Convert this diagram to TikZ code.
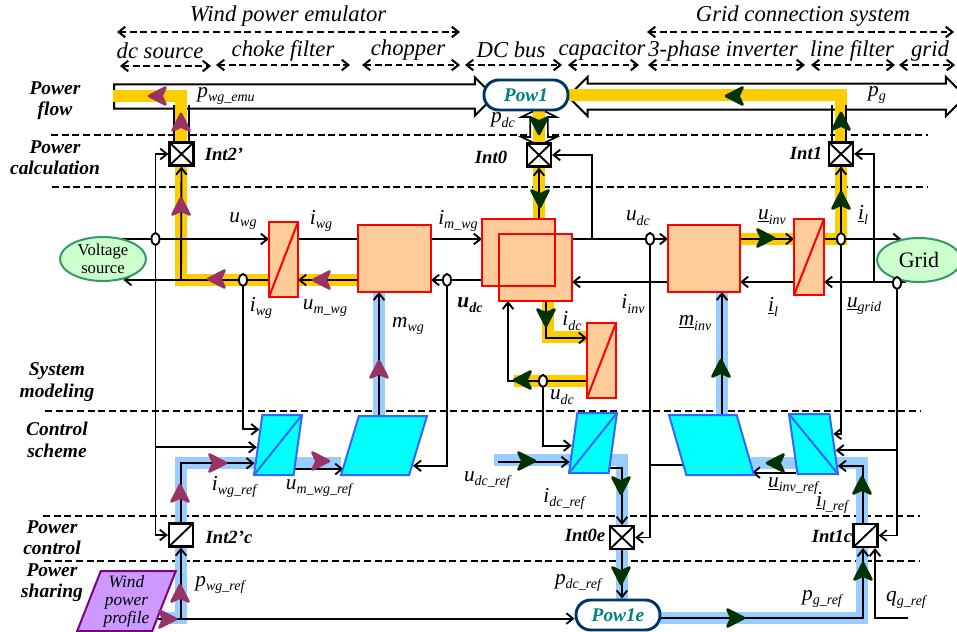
\documentclass[tikz,border=0pt]{standalone}
\usepackage{fontspec}
\setmainfont{Liberation Serif}
\usepackage{tikz}
\usetikzlibrary{arrows.meta,shapes.geometric,shapes.arrows,backgrounds}

\definecolor{bandyellow}{HTML}{FFCC00}
\definecolor{bandblue}{HTML}{99CCFF}
\definecolor{blockorange}{HTML}{FFCC99}
\definecolor{ctrlcyan}{HTML}{00FFFF}
\definecolor{ctrlblue}{HTML}{3366FF}
\definecolor{flowplum}{HTML}{993366}
\definecolor{flowgreen}{HTML}{003300}
\definecolor{powteal}{HTML}{008080}
\definecolor{powedge}{HTML}{003366}
\definecolor{srcgreen}{HTML}{CCFFCC}
\definecolor{srcedge}{HTML}{339966}
\definecolor{profviolet}{HTML}{CC99FF}
\definecolor{profedge}{HTML}{800080}

% signal label: letter plus lowered index
\newcommand{\sig}[2]{\fontsize{16}{18}\selectfont\itshape #1\raisebox{-0.45ex}{\fontsize{10.5}{12}\selectfont #2}}

\tikzset{
  sizepx/.style 2 args={minimum width=#1*0.75pt,minimum height=#2*0.75pt},
  convbox/.style={draw=red,fill=blockorange,line width=1.5pt,inner sep=0pt,outer sep=0pt},
  convdiag/.style={convbox,path picture={\draw[red,line width=1.5pt] (path picture bounding box.south west) -- (path picture bounding box.north east);}},
  intbox/.style={draw=black,fill=white,line width=1.6pt,inner sep=0pt,sizepx={24}{23}},
  intslash/.style={intbox,path picture={\draw[line width=1.4pt] (path picture bounding box.south west) -- (path picture bounding box.north east);}},
  intcross/.style={intbox,path picture={\draw[line width=1.4pt] (path picture bounding box.south west) -- (path picture bounding box.north east) (path picture bounding box.north west) -- (path picture bounding box.south east);}},
  ctrlbox/.style={trapezium,trapezium stretches=true,draw=ctrlblue,fill=ctrlcyan,line width=1.5pt,inner sep=1pt},
  ctrlup/.style={ctrlbox,path picture={\draw[ctrlblue,line width=1.5pt] (path picture bounding box.south west) -- (path picture bounding box.north east);}},
  ctrldown/.style={ctrlbox,path picture={\draw[ctrlblue,line width=1.5pt] (path picture bounding box.north west) -- (path picture bounding box.south east);}},
  powbox/.style={draw=powedge,fill=white,line width=2.2pt,rounded corners=11pt,inner sep=0pt,sizepx={84}{30},text=powteal,font=\fontsize{14.5}{16}\selectfont\bfseries\itshape},
  srcbox/.style={ellipse,draw=srcedge,fill=srcgreen,line width=1.5pt,inner sep=0pt},
  tapnode/.style={ellipse,draw=black,fill=white,line width=1.4pt,inner sep=0pt,sizepx={8}{12}},
  bigflow/.style={draw=black,fill=white,line width=1.5pt,inner xsep=0pt},
  wire/.style={black,line width=1.4pt},
  wirearrow/.style={wire,-{Straight Barb[length=5pt,width=8pt]}},
  spanarrow/.style={line width=1.5pt,dash pattern=on 5pt off 2.8pt,{Straight Barb[length=5pt,width=8pt]}-{Straight Barb[length=5pt,width=8pt]}},
  levelline/.style={line width=1.4pt,dash pattern=on 5.2pt off 2.8pt},
  yband/.style={bandyellow,line width=9pt,miter limit=10},
  bband/.style={bandblue,line width=8.5pt,miter limit=10},
  levellabel/.style={align=center,font=\fontsize{14.6}{16}\selectfont\bfseries\itshape},
  spanlabel/.style={font=\fontsize{17}{18}\selectfont\itshape},
  intlabel/.style={font=\fontsize{14}{16}\selectfont\bfseries\itshape},
  flowhead/.pic={\filldraw[line width=2pt,line join=round] (9,0) -- (-7.5,8.5) -- (-3.5,0) -- (-7.5,-8.5) -- cycle;}
}

\begin{document}
\begin{tikzpicture}[x=0.75pt,y=-0.75pt]
\clip (0,0) rectangle (957,632);

% levels used by the wires
\coordinate (lvtop) at (0,239);
\coordinate (lvbotl) at (0,280);
\coordinate (lvbotr) at (0,282);
\coordinate (lvidc) at (0,338);
\coordinate (lvudc) at (0,381);
\coordinate (lvpow) at (0,618);
\coordinate (xmwg) at (379,0);
\coordinate (xminv) at (722,0);
\coordinate (xidc) at (546,0);
\coordinate (xudc) at (508,0);
\coordinate (xpg) at (863,0);
\coordinate (xqg) at (875,0);
\coordinate (tapdc) at (592,239);
\coordinate (tapil) at (874,282);
\coordinate (joinem) at (181,280);
\coordinate (joinpr) at (181,618);
\coordinate (udcrefin) at (498,460);
\coordinate (qgrefin) at (908,618);

% blocks
\node[convdiag,sizepx={29}{75}] (convwg) at (283.5,259.5) {};
\node[convbox,sizepx={73}{67}] (chopper) at (394.5,258.5) {};
\node[convbox,sizepx={73}{67}] (busa) at (518.5,252.5) {};
\node[convbox,sizepx={73}{67}] (busb) at (535.5,267.5) {};
\draw[draw=red,line width=1.5pt] (busa.north west) rectangle (busa.south east);
\node[convbox,sizepx={72}{67}] (inverter) at (704,258.5) {};
\node[convdiag,sizepx={30}{76}] (lfilter) at (809,257) {};
\node[convdiag,sizepx={29}{75}] (convdc) at (601.5,360.5) {};

\node[ctrlup,sizepx={48}{60},trapezium left angle=75,trapezium right angle=105] (ctrliwg) at (278,445) {};
\node[ctrlbox,sizepx={86}{59},trapezium left angle=70.4,trapezium right angle=109.6] (ctrlmwg) at (384,445.5) {};
\node[ctrlup,sizepx={48}{60},trapezium left angle=75,trapezium right angle=105] (ctrlidc) at (593,443) {};
\node[ctrlbox,sizepx={85}{60},trapezium left angle=109,trapezium right angle=71] (ctrlminv) at (711.5,445) {};
\node[ctrldown,sizepx={49}{60},trapezium left angle=105,trapezium right angle=75] (ctrlil) at (813.5,444) {};

\node[intcross] (int2p) at (181.5,154) {};
\node[intcross] (int0) at (539,155) {};
\node[intcross] (int1) at (841,154) {};
\node[intslash] (int2c) at (181,535) {};
\node[intcross] (int0e) at (622,537.5) {};
\node[intslash] (int1c) at (865.5,535.5) {};

\node[powbox] (pow1) at (526,95) {Pow1};
\node[powbox] (pow1e) at (618,615) {Pow1e};
\node[srcbox,sizepx={86}{44},align=center,font=\fontsize{12.5}{13.5}\selectfont] (vsrc) at (103,259) {Voltage\\source};
\node[srcbox,sizepx={84}{44},font=\fontsize{16.5}{18}\selectfont] (grid) at (919,260) {Grid};
\node[trapezium,trapezium stretches=true,trapezium left angle=68,trapezium right angle=112,draw=profedge,fill=profviolet,line width=1.5pt,inner sep=0pt,sizepx={99}{60},align=center,font=\fontsize{13}{13.5}\selectfont\itshape] (wprof) at (126.5,601) {Wind\\power\\profile};

\node[tapnode] (tapvs) at (155.5,239) {};
\node[tapnode] (tapiwg) at (243,280) {};
\node[tapnode] (tapch) at (447,280) {};
\node[tapnode] (tapdcin) at (650,239) {};
\node[tapnode] (tapinv) at (841,239) {};
\node[tapnode] (tapgr) at (897,283) {};
\node[tapnode] (tapcap) at (543,381) {};

\begin{scope}[on background layer]
  % level separators
  \foreach \ln/\lx/\lxx/\ly in {a/51/928/135,b/52/928/187,c/45/921/411,d/43/920/516,e/44/920/561}{
    \coordinate (lev\ln a) at (\lx,\ly);
    \coordinate (lev\ln b) at (\lxx,\ly);
    \draw[levelline] (lev\ln a) -- (lev\ln b);
  }
  % power flow arrows
  \node[bigflow,single arrow,inner ysep=8.3pt,single arrow head extend=5.4pt,minimum height=380*0.75pt] (pwgflow) at (298,96.5) {};
  \node[bigflow,double arrow,inner ysep=9pt,double arrow head extend=4.9pt,minimum height=397.5*0.75pt] (pgflow) at (766.75,96.5) {};
  \node[bigflow,double arrow,rotate=90,double arrow tip angle=128,inner ysep=6pt,double arrow head extend=6.4pt,minimum height=37*0.75pt,line width=1.3pt] (pdcflow) at (539,127) {};
  % bands
  \draw[yband] (113,96) -- (181,96) -- (181,280) -- (358,280);
  \draw[yband] (pow1.east |- 0,95) -- (841,95) -- (841,238.5) -- (740,238.5);
  \draw[yband] (539,108) -- (539,220);
  \draw[yband] (548,301) -- (548,337) -- (587,337);
  \draw[yband] (514,381) -- (587,381);
  \draw[bband] (160,618) -- (181,618) -- (181,463) -- (341,463);
  \draw[bband] (xmwg |- chopper.south) -- (xmwg |- ctrlmwg.north);
  \draw[bband] (xminv |- inverter.south) -- (xminv |- ctrlminv.north);
  \draw[bband] (494,460) -- (622,460) -- (622,600);
  \draw[bband] (660,618) -- (862,618) -- (862,463) -- (751,463);
  % arrow side lines
  \draw[wire] ([xshift=-5.6pt]int2p.north) -- ++(0,-36);
  \draw[wire] ([xshift=5.6pt]int2p.north) -- ++(0,-36);
  \draw[wire] ([xshift=-6.6pt]int1.north) -- ++(0,-36);
  \draw[wire] ([xshift=4pt]int1.north) -- ++(0,-36);
  % wind side wires
  \draw[wirearrow] (vsrc.65 |- lvtop) -- (convwg.west |- lvtop);
  \draw[wirearrow] (tapvs) |- (int2p.west);
  \draw[wirearrow] (tapvs) |- (int2c.west);
  \draw[wirearrow] (tapvs |- ctrliwg.186) -- (ctrliwg.186);
  \draw[wire] (convwg.east |- lvtop) -- (chopper.west |- lvtop);
  \draw[wirearrow] (chopper.east |- lvtop) -- (busa.west |- lvtop);
  \draw[wirearrow] (busa.west |- lvbotl) -- (chopper.east |- lvbotl);
  \draw[wirearrow] (tapch) |- (ctrlmwg.325.5);
  \draw[wirearrow] (chopper.west |- lvbotl) -- (convwg.east |- lvbotl);
  \draw[wirearrow] (convwg.west |- lvbotl) -- (vsrc.-45 |- lvbotl);
  \draw[wirearrow] (joinem) -- (int2p.south);
  \draw[wirearrow] (tapiwg) |- (ctrliwg.140);
  \draw[wirearrow] (xmwg |- ctrlmwg.north) -- (xmwg |- chopper.south);
  \draw[wirearrow] (int2c.north) |- (ctrliwg.218);
  \draw[wirearrow] (ctrliwg.306) -- (ctrliwg.306 -| ctrlmwg.204);
  \draw[wirearrow] (joinpr) -- (int2c.south);
  \draw[wirearrow] (wprof.-29) -- (pow1e.west |- wprof.-29);
  % dc bus wires
  \draw[wirearrow] (busb.east |- lvtop) -- (inverter.west |- lvtop);
  \draw[wirearrow] (tapdc) |- (int0.east);
  \draw[wirearrow] (int0.south |- busa.north) -- (int0.south);
  \draw[wirearrow] (xidc |- busb.south) |- (convdc.west |- lvidc);
  \draw[wirearrow] (convdc.west |- lvudc) -| (xudc |- busb.south);
  \draw[wirearrow] (tapcap) |- (ctrlidc.187);
  \draw[wirearrow] (udcrefin |- ctrlidc.219.7) -- (ctrlidc.219.7);
  \draw[wirearrow] (ctrlidc.305) -| (int0e.north);
  \draw[wirearrow] (int0e.south) -- (pow1e.north -| int0e.south);
  \draw[wirearrow] (tapdcin) |- (int0e.east);
  \draw[wire] (tapdcin |- ctrlminv.215) -- (ctrlminv.215);
  % grid side wires
  \draw[wirearrow] (inverter.east |- lvtop) -- (lfilter.west |- lvtop);
  \draw[wirearrow] (lfilter.east |- lvtop) -- (grid.130 |- lvtop);
  \draw[wirearrow] (tapinv) -- (int1.south);
  \draw[wirearrow] (tapinv) |- (ctrlil.27);
  \draw[wirearrow] (grid.-120 |- lvbotr) -- (lfilter.east |- lvbotr);
  \draw[wirearrow] (lfilter.west |- lvbotr) -- (inverter.east |- lvbotr);
  \draw[wirearrow] (inverter.west |- lvbotr) -- (busb.east |- lvbotr);
  \draw[wirearrow] (tapil) |- (int1.east);
  \draw[wirearrow] (tapgr) |- (int1c.east);
  \draw[wirearrow] (tapgr |- ctrlil.344) -- (ctrlil.344);
  \draw[wirearrow] (xminv |- ctrlminv.north) -- (xminv |- inverter.south);
  \draw[wirearrow] (ctrlil.239) -- (ctrlil.239 -| ctrlminv.335);
  \draw[wirearrow] (pow1e.east |- lvpow) -| (xpg |- int1c.south);
  \draw[wirearrow] (xpg |- int1c.north) |- (ctrlil.318.5);
  \draw[wirearrow] (qgrefin) -| (xqg |- int1c.south);
\end{scope}

% flow direction marks
\foreach \px/\py/\pa in {158/96/180,181/123/90,181/207/90,217/279/180,322/280/180,379/370/90,217/463/0,320/461/0,180/494/90,180/594/90,167/619/0}
  \pic[rotate=\pa,color=flowplum] at (\px,\py) {flowhead};
\foreach \px/\py/\pa in {735/96/180,539/125/-90,540/198/-90,841/122/90,841/201/90,765/238/0,546/317/-90,523/380/180,526/461/0,621/485/-90,621/575/-90,721/369/90,776/463/180,862/486/90,863/572/90,735/618/0}
  \pic[rotate=\pa,color=flowgreen] at (\px,\py) {flowhead};

% span arrows and their titles
\foreach \hn/\hx/\hxx/\hy in {wind/117/460/32,grid/647/954/32,dcs/120/211/66,choke/216/350/65,chop/362/460/65,bus/465/562/65,cap/568/639/65,inv/648/805/65,line/811/895/65,gr/899/955/65}{
  \coordinate (span\hn a) at (\hx,\hy);
  \coordinate (span\hn b) at (\hxx,\hy);
  \draw[spanarrow] (span\hn a) -- (span\hn b);
}
\node[spanlabel] (twind) at (288,16) {Wind power emulator};
\node[spanlabel] (tgrid) at (803,16) {Grid connection system};
\node[spanlabel] (tdcs) at (160,51) {dc source};
\node[spanlabel] (tchoke) at (283,51) {choke filter};
\node[spanlabel] (tchop) at (408,50) {chopper};
\node[spanlabel] (tbus) at (511,50) {DC bus};
\node[spanlabel] (tcap) at (602,50) {capacitor};
\node[spanlabel] (tinv) at (723,51) {3-phase inverter};
\node[spanlabel] (tline) at (852,51) {line filter};
\node[spanlabel] (tgr) at (930,51) {grid};

% level titles
\node[levellabel] (lflow) at (55,100.5) {Power\\flow};
\node[levellabel] (lcalc) at (55,157.5) {Power\\calculation};
\node[levellabel] (lmod) at (57,382) {System\\modeling};
\node[levellabel] (lctrl) at (57,440) {Control\\scheme};
\node[levellabel] (lpctrl) at (52,537.5) {Power\\control};
\node[levellabel] (lshare) at (52,582.5) {Power\\sharing};

% interaction block titles
\node[intlabel] (tint2p) at (224,154) {Int2’};
\node[intlabel] (tint0) at (491,157) {Int0};
\node[intlabel] (tint1) at (806,153) {Int1};
\node[intlabel] (tint2c) at (229,537) {Int2’c};
\node[intlabel] (tint0e) at (585,535) {Int0e};
\node[intlabel] (tint1c) at (832,536) {Int1c};

% signal names
\node (spwg) at (226,96) {\sig{p}{wg\_emu}};
\node (suwg) at (243,221) {\sig{u}{wg}};
\node (siwg) at (321,221) {\sig{i}{wg}};
\node (simwg) at (458,221) {\sig{i}{m\_wg}};
\node (sudc) at (638,218) {\sig{u}{dc}};
\node (suinv) at (772,217) {\sig{\underline{u}}{inv}};
\node (silt) at (863,215) {\sig{\underline{i}}{l}};
\node (spg) at (877,95) {\sig{p}{g}};
\node (spdc) at (503,120) {\sig{p}{dc}};
\node (siwgb) at (261,308) {\sig{i}{wg}};
\node (sumwg) at (325,308) {\sig{u}{m\_wg}};
\node (sudcb) at (470,305) {\bfseries\sig{u}{dc}};
\node (siinv) at (633,304) {\sig{i}{inv}};
\node (silb) at (773,307) {\sig{\underline{i}}{l}};
\node (sugrid) at (864,306) {\sig{\underline{u}}{grid}};
\node (smwg) at (408,326) {\sig{m}{wg}};
\node (sminv) at (695,323) {\sig{\underline{m}}{inv}};
\node (sidc) at (572,321) {\sig{i}{dc}};
\node (sudcc) at (562,397) {\sig{u}{dc}};
\node (siwgr) at (234,487) {\sig{i}{wg\_ref}};
\node (sumwgr) at (319,488) {\sig{u}{m\_wg\_ref}};
\node (sudcr) at (487,480) {\sig{u}{dc\_ref}};
\node (sidcr) at (564,499) {\sig{i}{dc\_ref}};
\node (suinvr) at (793,486) {\sig{\underline{u}}{inv\_ref}};
\node (silr) at (832,503) {\sig{\underline{i}}{l\_ref}};
\node (spdcr) at (578,583) {\sig{p}{dc\_ref}};
\node (spgr) at (822,599) {\sig{p}{g\_ref}};
\node (sqgr) at (906,600) {\sig{q}{g\_ref}};
\node (spwgr) at (220,585) {\sig{p}{wg\_ref}};
\end{tikzpicture}
\end{document}
